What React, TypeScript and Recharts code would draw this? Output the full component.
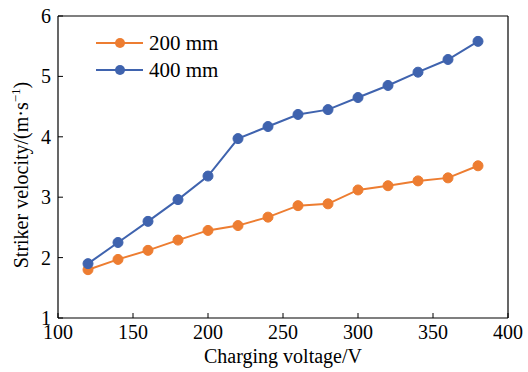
import { LineChart, Line, XAxis, YAxis, ReferenceLine } from 'recharts'

const voltages = [120, 140, 160, 180, 200, 220, 240, 260, 280, 300, 320, 340, 360, 380]
const speed200 = [1.8, 1.97, 2.12, 2.29, 2.45, 2.53, 2.67, 2.86, 2.89, 3.12, 3.19, 3.27, 3.32, 3.52]
const speed400 = [1.9, 2.25, 2.6, 2.96, 3.35, 3.97, 4.17, 4.37, 4.45, 4.65, 4.85, 5.07, 5.28, 5.58]
const xTicks = [100, 150, 200, 250, 300, 350, 400]
const yTicks = [1, 2, 3, 4, 5, 6]

const ORANGE = '#ED7D31'
const BLUE = '#3F63AE'
const FONT = "'Liberation Serif', 'Times New Roman', serif"
const txt = { fontFamily: FONT }

const data = voltages.map((v, i) => ({ v, s200: speed200[i], s400: speed400[i] }))

const XTick = (props: any) => {
    const { x, y, payload } = props
    return (
        <g>
            <line x1={x} y1={y} x2={x} y2={y - 5} stroke="#000" strokeWidth={1} />
            <text x={x} y={y + 21} textAnchor="middle" fontSize={20} style={txt} fill="#000">
                {payload.value}
            </text>
        </g>
    )
}

const YTick = (props: any) => {
    const { x, y, payload } = props
    return (
        <g>
            <line x1={x} y1={y} x2={x + 5} y2={y} stroke="#000" strokeWidth={1} />
            <text x={x - 7} y={y + 7} textAnchor="end" fontSize={20} style={txt} fill="#000">
                {payload.value}
            </text>
        </g>
    )
}

const series = [
    { name: '200 mm', color: ORANGE },
    { name: '400 mm', color: BLUE },
]

const LegendBox = () => (
    <svg width={140} height={64} style={{ position: 'absolute', left: 96, top: 32 }}>
        {series.map((s, i) => (
            <g key={s.name} transform={`translate(0, ${11 + i * 27})`}>
                <line x1={0} y1={0} x2={47} y2={0} stroke={s.color} strokeWidth={2} />
                <circle cx={24} cy={0} r={5} fill={s.color} />
                <text x={53} y={7} fontSize={21} style={txt} fill="#000">
                    {s.name}
                </text>
            </g>
        ))}
    </svg>
)

export default function App() {
    return (
        <div
            style={{
                position: 'absolute',
                left: 0,
                top: 0,
                width: 528,
                height: 372,
                background: '#fff',
                fontFamily: FONT,
            }}
        >
            <LineChart width={528} height={372} data={data} margin={{ top: 16, right: 20, bottom: 0, left: 0 }}>
                <XAxis
                    dataKey="v"
                    type="number"
                    domain={[100, 400]}
                    ticks={xTicks}
                    tickSize={0}
                    tickMargin={0}
                    tickLine={false}
                    tick={<XTick />}
                    axisLine={{ stroke: '#000', strokeWidth: 1.2 }}
                    height={54}
                    label={(props: any) => {
                        const vb = props.viewBox
                        return (
                            <text
                                x={vb.x + vb.width / 2}
                                y={363}
                                textAnchor="middle"
                                fontSize={20}
                                style={txt}
                                fill="#000"
                            >
                                Charging voltage/V
                            </text>
                        )
                    }}
                />
                <YAxis
                    type="number"
                    domain={[1, 6]}
                    ticks={yTicks}
                    tickSize={0}
                    tickMargin={0}
                    tickLine={false}
                    tick={<YTick />}
                    width={58}
                    axisLine={{ stroke: '#000', strokeWidth: 1.2 }}
                    label={(props: any) => {
                        const vb = props.viewBox
                        const cx = 28
                        const cy = vb.y + vb.height / 2 + 8
                        return (
                            <text
                                x={cx}
                                y={cy}
                                transform={`rotate(-90, ${cx}, ${cy})`}
                                textAnchor="middle"
                                fontSize={20}
                                style={txt}
                                fill="#000"
                            >
                                Striker velocity/(m·s
                                <tspan fontSize={13} dy={-8}>−1</tspan>
                                <tspan dy={8}>)</tspan>
                            </text>
                        )
                    }}
                />
                <ReferenceLine y={6} stroke="#000" strokeWidth={1.2} />
                <ReferenceLine x={400} stroke="#000" strokeWidth={1.2} />
                <Line
                    dataKey="s200"
                    name="200 mm"
                    stroke={ORANGE}
                    strokeWidth={2}
                    dot={{ r: 5, fill: ORANGE, stroke: ORANGE, strokeWidth: 1 }}
                    isAnimationActive={false}
                />
                <Line
                    dataKey="s400"
                    name="400 mm"
                    stroke={BLUE}
                    strokeWidth={2}
                    dot={{ r: 5, fill: BLUE, stroke: BLUE, strokeWidth: 1 }}
                    isAnimationActive={false}
                />
            </LineChart>
            <LegendBox />
        </div>
    )
}
